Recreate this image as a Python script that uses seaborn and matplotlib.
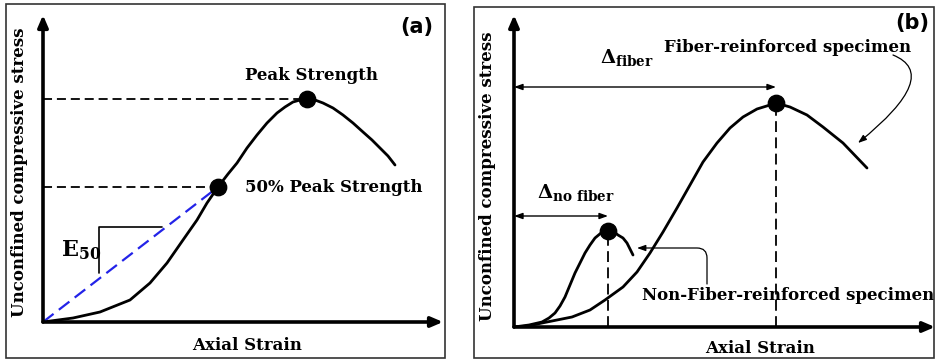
import matplotlib
matplotlib.use("Agg")
import matplotlib.pyplot as plt
import seaborn as sns
import pandas as pd
from matplotlib.patches import Rectangle

# ---------------- data (arbitrary schematic units) ----------------
# Panel (a): typical stress-strain curve
strain_a = [0, 30, 57, 87, 107, 124, 140, 154, 164, 175, 185, 194, 204, 214, 224, 234, 242, 250, 257,
            264, 272, 280, 290, 300, 310, 320, 329, 337, 345, 352]
stress_a = [0, 4, 10, 22, 39, 59, 82, 102, 119, 135, 148, 159, 174, 187, 199, 209, 215, 220, 222,
            223, 222, 219, 214, 207, 199, 190, 182, 174, 166, 157]
peak_a = (264, 223)
half_a = (175, 135)
slope_x = [119, 56, 56]
slope_y = [95, 95, 49]

# Panel (b): fiber vs non-fiber specimens
strain_fiber = [0, 14, 28, 43, 58, 76, 91, 109, 123, 136, 149, 163, 176, 189, 203, 216, 229,
                243, 256, 262, 276, 293, 309, 329, 353]
stress_fiber = [0, 1, 4, 7, 10, 17, 27, 40, 55, 74, 95, 119, 142, 165, 184, 199, 210,
                218, 222, 224, 220, 212, 200, 184, 159]
strain_nofiber = [0, 15, 28, 35, 41, 46, 51, 56, 61, 66, 71, 76, 81, 87, 94, 100, 104, 109, 113, 116, 119]
stress_nofiber = [0, 2, 5, 9, 14, 21, 30, 42, 54, 64, 74, 82, 89, 94, 96, 95, 92, 89, 84, 78, 72]
peak_fiber = (262, 224)
peak_nofiber = (94, 96)

xlabel = "Axial Strain"
ylabel = "Unconfined compressive stress"

# ---------------- style ----------------
sns.set_style("white")
plt.rcParams["font.family"] = ["DejaVu Serif"]
plt.rcParams["font.weight"] = "bold"
plt.rcParams["text.color"] = "black"
plt.rcParams["mathtext.fontset"] = "dejavuserif"

W, H = 935, 361
fig = plt.figure(figsize=(W / 100, H / 100), dpi=100)

def fx(px):
    return px / W

def fy(py):
    return 1 - py / H

# panel borders
for (x0, y0, x1, y1) in [(6, 4, 445, 358), (474, 7, 934, 358)]:
    fig.add_artist(Rectangle((fx(x0), fy(y1)), (x1 - x0) / W, (y1 - y0) / H,
                             transform=fig.transFigure, fill=False,
                             edgecolor="#333333", lw=1.2))

ax_a = fig.add_axes([fx(43), fy(322), 400 / W, 307 / H])
ax_b = fig.add_axes([fx(514), fy(327), 421 / W, 312 / H])

LBL = 12

# ---------------- panel (a) ----------------
df_a = pd.DataFrame({"strain": strain_a, "stress": stress_a})
sns.lineplot(data=df_a, x="strain", y="stress", ax=ax_a, sort=False,
             estimator=None, color="black", lw=2.0)
ax_a.plot([0, peak_a[0]], [peak_a[1], peak_a[1]], ls=(0, (5, 2.7)), color="black", lw=1.3)
ax_a.plot([0, half_a[0]], [half_a[1], half_a[1]], ls=(0, (5, 2.7)), color="black", lw=1.3)
ax_a.plot([0, half_a[0]], [0, half_a[1]], ls=(0, (6, 3)), color="#2323e8", lw=1.6)
ax_a.plot(slope_x, slope_y, color="black", lw=1.2)
pts_a = pd.DataFrame({"strain": [half_a[0], peak_a[0]], "stress": [half_a[1], peak_a[1]]})
sns.scatterplot(data=pts_a, x="strain", y="stress", ax=ax_a, s=140,
                color="black", edgecolor="black", zorder=5)

ax_a.text(269, 246, "Peak Strength", fontsize=LBL, ha="center", va="center")
ax_a.text(202, 135, "50% Peak Strength", fontsize=LBL, ha="left", va="center")
ax_a.text(18, 66, r"$\mathbf{E}_{50}$", fontsize=16, ha="left", va="baseline")
ax_a.text(374, 295, "(a)", fontsize=15, fontweight="bold",
          family="DejaVu Sans", ha="center", va="center")

# ---------------- panel (b) ----------------
df_f = pd.DataFrame({"strain": strain_fiber, "stress": stress_fiber})
df_n = pd.DataFrame({"strain": strain_nofiber, "stress": stress_nofiber})
sns.lineplot(data=df_f, x="strain", y="stress", ax=ax_b, sort=False,
             estimator=None, color="black", lw=2.0)
sns.lineplot(data=df_n, x="strain", y="stress", ax=ax_b, sort=False,
             estimator=None, color="black", lw=2.0)
for px_, py_ in (peak_fiber, peak_nofiber):
    ax_b.plot([px_, px_], [0, py_], ls=(0, (6, 3)), color="black", lw=1.3)
pts_b = pd.DataFrame({"strain": [peak_nofiber[0], peak_fiber[0]],
                      "stress": [peak_nofiber[1], peak_fiber[1]]})
sns.scatterplot(data=pts_b, x="strain", y="stress", ax=ax_b, s=140,
                color="black", edgecolor="black", zorder=5)

dbl = dict(arrowstyle="<|-|>,head_length=0.5,head_width=0.18", lw=1.0,
           color="black", shrinkA=0, shrinkB=0)
ax_b.annotate("", xy=(peak_fiber[0], 240), xytext=(0, 240), arrowprops=dbl)
ax_b.annotate("", xy=(peak_nofiber[0], 111), xytext=(0, 111), arrowprops=dbl)

ax_b.text(86, 264, r"$\Delta_{\mathbf{fiber}}$", fontsize=14, ha="left", va="baseline")
ax_b.text(23, 129, r"$\Delta_{\mathbf{no\ fiber}}$", fontsize=14, ha="left", va="baseline")
ax_b.text(274, 280, "Fiber-reinforced specimen", fontsize=LBL, ha="center", va="center")
ax_b.text(274, 32, "Non-Fiber-reinforced specimen", fontsize=LBL, ha="center", va="center")
ax_b.text(398, 304, "(b)", fontsize=15, fontweight="bold",
          family="DejaVu Sans", ha="center", va="center", clip_on=False)

thin = dict(arrowstyle="-|>,head_length=0.5,head_width=0.18", lw=0.9,
            color="black", shrinkA=0, shrinkB=0)
ax_b.annotate("", xy=(344, 184), xytext=(379, 272),
              arrowprops=dict(thin, connectionstyle="angle3,angleA=-22,angleB=39"),
              annotation_clip=False)
ax_b.annotate("", xy=(123, 79), xytext=(193, 43),
              arrowprops=dict(thin, connectionstyle="angle,angleA=90,angleB=0,rad=10"),
              annotation_clip=False)

# ---------------- axes frame: arrows instead of spines ----------------
ax_a.set_xlim(0, 400); ax_a.set_ylim(0, 307)
ax_b.set_xlim(0, 421); ax_b.set_ylim(0, 312)
label_pos = {
    "a": ((0.51, -0.075), (-0.0575, 0.489)),
    "b": ((0.584, -0.0705), (-0.062, 0.484)),
}
for key, ax in (("a", ax_a), ("b", ax_b)):
    ax.patch.set_alpha(0)
    ax.set_xticks([]); ax.set_yticks([])
    ax.set_xlabel(""); ax.set_ylabel("")
    for s in ax.spines.values():
        s.set_visible(False)
    arrow_kw = dict(arrowstyle="-|>,head_length=0.7,head_width=0.3", lw=2.6,
                    color="black", shrinkA=0, shrinkB=0)
    ax.annotate("", xy=(1, 0), xytext=(0, 0), xycoords="axes fraction",
                arrowprops=arrow_kw, annotation_clip=False)
    ax.annotate("", xy=(0, 1), xytext=(0, 0), xycoords="axes fraction",
                arrowprops=arrow_kw, annotation_clip=False)
    (xlx, xly), (ylx, yly) = label_pos[key]
    ax.text(xlx, xly, xlabel, transform=ax.transAxes, fontsize=LBL,
            ha="center", va="center", clip_on=False)
    ax.text(ylx, yly, ylabel, transform=ax.transAxes, fontsize=LBL,
            rotation=90, ha="center", va="center", clip_on=False)

fig.savefig("out.png", dpi=100)
